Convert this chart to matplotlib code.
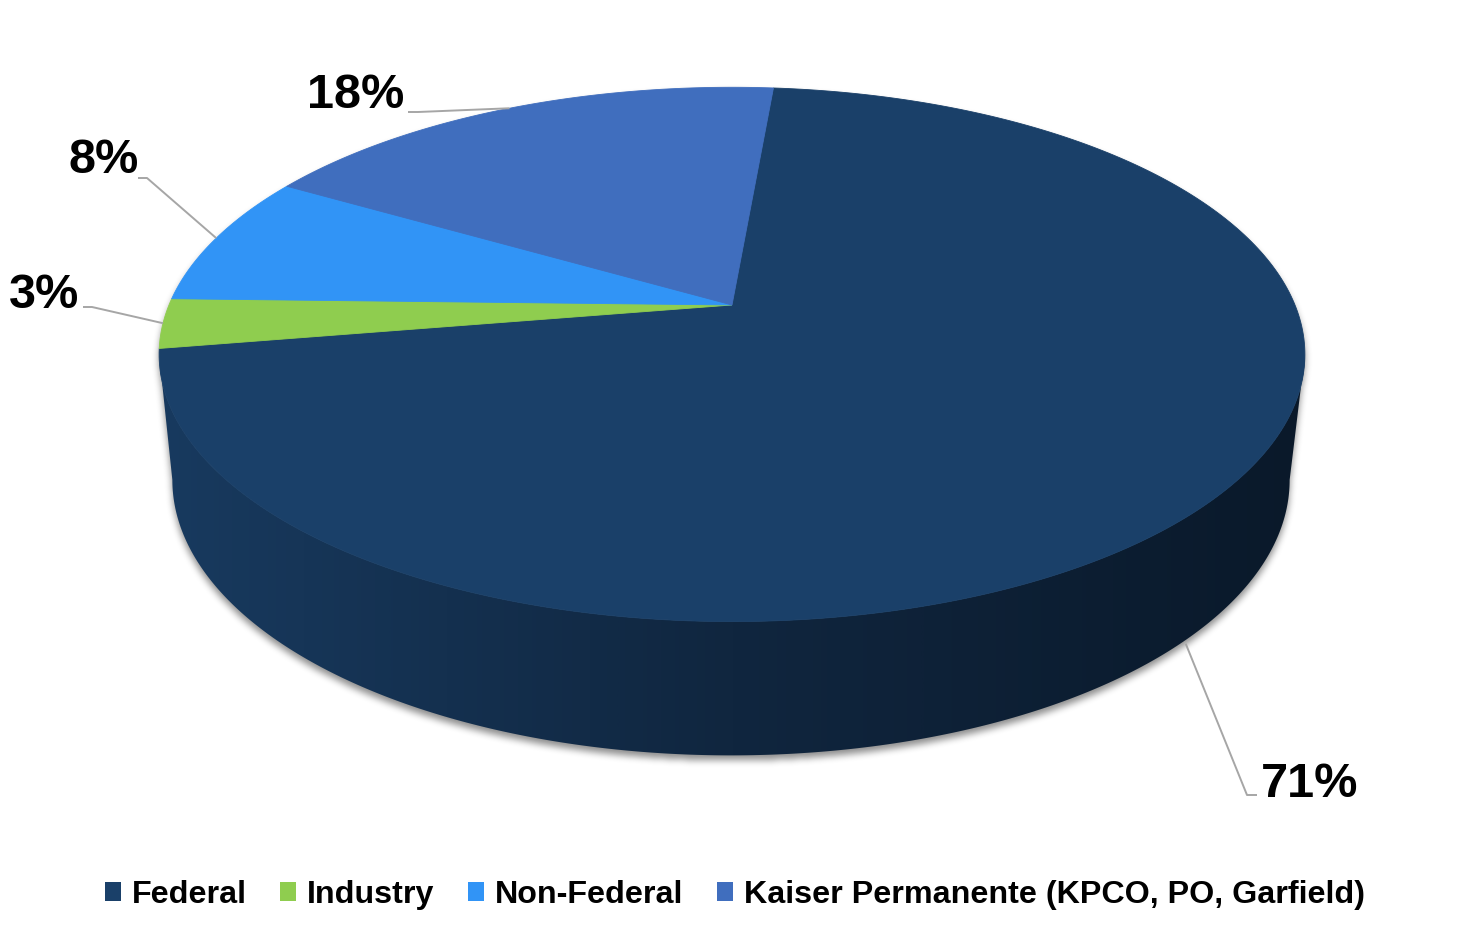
import numpy as np
import matplotlib
matplotlib.use('Agg')
import matplotlib.pyplot as plt
from matplotlib.patches import Polygon, Patch
from matplotlib.path import Path
from matplotlib.colors import LinearSegmentedColormap
from matplotlib.font_manager import FontProperties

# ---------------- data ----------------
categories = ['Federal', 'Industry', 'Non-Federal', 'Kaiser Permanente (KPCO, PO, Garfield)']
values = [71, 3, 8, 18]
pct_labels = ['71%', '3%', '8%', '18%']
colors = ['#1A4069', '#8FCD4F', '#3194F6', '#406EBE']

# ---------------- layout ----------------
W, H = 1464, 931
fig = plt.figure(figsize=(W / 100, H / 100), dpi=100)
ax = fig.add_axes([0, 0, 1, 1])
ax.set_xlim(0, W)
ax.set_ylim(H, 0)
ax.axis('off')

CX, CY, A, B, K = 732, 305, 563, 258, 0.185          # top face projection
CXb, CYb, Ab, Bb = 731, 429, 549, 266                # bottom face projection
START = 5.0

def proj(theta, cx, cy, a, b):
    t = np.radians(theta)
    u, v = np.sin(t), np.cos(t)
    d = 1 + K * v
    return cx + a * u / d, cy - b * v / d

def top(theta):
    return proj(theta, CX, CY, A, B)

def bot(theta):
    return proj(theta, CXb, CYb, Ab, Bb)

fr = np.array(values, dtype=float) / np.sum(values)
edges = START + np.concatenate([[0], np.cumsum(fr)]) * 360.0
VIS0 = np.degrees(np.arccos(-K))          # right silhouette
VIS1 = 360 - VIS0                          # left silhouette

# ---------------- shadow ----------------
th_all = np.linspace(0, 360, 721)
tx, ty = top(th_all)
thv = np.linspace(VIS0, VIS1, 400)
sx_t, sy_t = top(thv)
sx_b, sy_b = bot(thv)
side_xy = np.vstack([np.column_stack([sx_t, sy_t]), np.column_stack([sx_b, sy_b])[::-1]])
p_top = Path(np.column_stack([tx, ty]))
p_side = Path(side_xy)
gx, gy = np.meshgrid(np.arange(W) + 0.5, np.arange(H) + 0.5)
pts = np.column_stack([gx.ravel(), gy.ravel() - 5])
mask = (p_top.contains_points(pts) | p_side.contains_points(pts)).reshape(H, W).astype(float)

def box_blur(img, r):
    for axis in (0, 1):
        c = np.cumsum(np.pad(img, [(r + 1, r) if i == axis else (0, 0) for i in range(2)], mode='edge'), axis=axis)
        if axis == 0:
            img = (c[2 * r + 1:, :] - c[:-2 * r - 1, :]) / (2 * r + 1)
        else:
            img = (c[:, 2 * r + 1:] - c[:, :-2 * r - 1]) / (2 * r + 1)
    return img

for _ in range(3):
    mask = box_blur(mask, 3)
shadow = np.zeros((H, W, 4))
shadow[..., 3] = mask * 0.45
ax.imshow(shadow, extent=[0, W, H, 0], zorder=1, interpolation='bilinear')

# ---------------- side walls ----------------
side_cmap = LinearSegmentedColormap.from_list('side', ['#183A5F', '#10263F', '#0A192A'])
for i in range(len(values)):
    a0, a1 = max(edges[i], VIS0), min(edges[i + 1], VIS1)
    if a1 <= a0:
        continue
    th = np.linspace(a0, a1, 300)
    x1, y1 = top(th)
    x2, y2 = bot(th)
    poly = Polygon(np.vstack([np.column_stack([x1, y1]), np.column_stack([x2, y2])[::-1]]),
                   closed=True, facecolor='none', edgecolor='none')
    ax.add_patch(poly)
    grad = np.linspace(0, 1, 512).reshape(1, -1)
    im = ax.imshow(grad, cmap=side_cmap, extent=[160, 1305, 800, 300], aspect='auto', zorder=2)
    im.set_clip_path(poly)

# ---------------- top face ----------------
for i in range(len(values)):
    th = np.linspace(edges[i], edges[i + 1], 300)
    x, y = top(th)
    xy = np.vstack([[CX, CY], np.column_stack([x, y])])
    ax.add_patch(Polygon(xy, closed=True, facecolor=colors[i], edgecolor=colors[i], lw=0.6, zorder=3))

# ---------------- labels ----------------
lab_font = FontProperties(family=['Liberation Sans', 'DejaVu Sans'], weight='bold', size=35)
lab_pos = [(1310, 797), (44, 308), (104, 173), (356, 108)]
lab_elbow = [[(1257, 795), (1247, 795)], [(83, 307), (92, 307)], [(138, 178), (147, 178)], [(408, 112), (418, 112)]]
for i in range(len(values)):
    mid = (edges[i] + edges[i + 1]) / 2
    if VIS0 < mid < VIS1:
        anchor = bot(mid)
        anchor = (anchor[0] - 6, anchor[1] + 8)
    else:
        anchor = top(mid)
    pts_l = lab_elbow[i] + [anchor]
    ax.plot([p[0] for p in pts_l], [p[1] for p in pts_l], color='#A6A6A6', lw=1.4, zorder=4,
            solid_capstyle='butt')
    ax.text(lab_pos[i][0], lab_pos[i][1], pct_labels[i], fontproperties=lab_font,
            ha='center', va='baseline', color='black', zorder=5)

# ---------------- legend ----------------
handles = [Patch(facecolor=c, edgecolor='none') for c in colors]
fig.legend(handles, categories, loc='center', bbox_to_anchor=(735 / W, 1 - 895 / H), ncol=4,
           frameon=False, prop=FontProperties(family=['Liberation Sans', 'DejaVu Sans'], weight='bold', size=23.2),
           handlelength=0.5, handleheight=0.5, handletextpad=0.34, columnspacing=1.04,
           borderpad=0, borderaxespad=0)

fig.savefig('out.png', dpi=100, facecolor='white')
